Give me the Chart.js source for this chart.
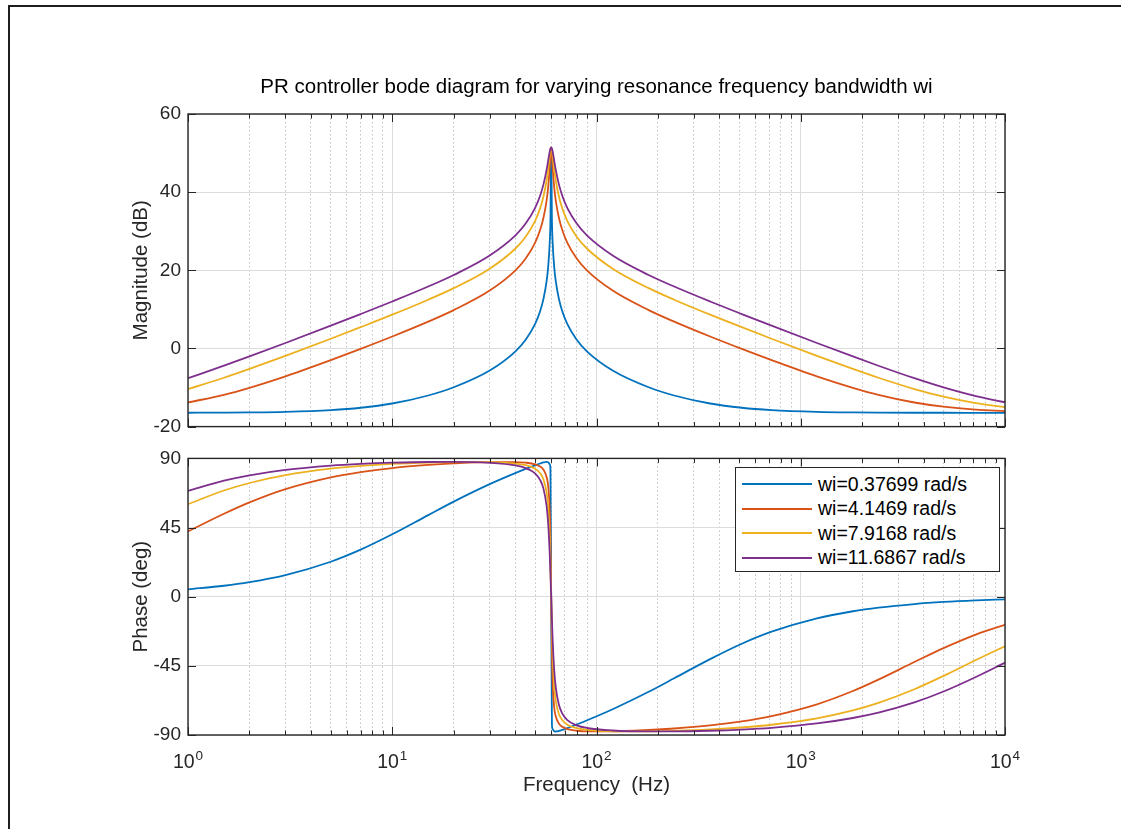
<!DOCTYPE html>
<html>
<head>
<meta charset="utf-8">
<title>PR controller bode diagram</title>
<script src="https://cdn.jsdelivr.net/npm/chart.js@4.4.1/dist/chart.umd.min.js"></script>
<style>
  html, body { margin: 0; padding: 0; background: #fff; }
  #fig { position: relative; width: 1121px; height: 829px; overflow: hidden; font-family: "Liberation Sans", Arial, sans-serif; }
  #frame { position: absolute; left: 8px; top: 5px; width: 1200px; height: 900px; border-top: 2px solid #1e1e1e; border-left: 2px solid #1e1e1e; }
  #magCanvas { position: absolute; left: 0; top: 0; }
  #phaseCanvas { position: absolute; left: 0; top: 440px; }
  #legend { position: absolute; left: 735px; top: 467px; width: 263px; padding: 4px 0 1px 0; border: 1px solid #262626; background: #fff; }
  #legend .row { height: 24.5px; display: flex; align-items: center; color: #000; font-size: 19.5px; white-space: nowrap; }
  #legend .swatch { display: inline-block; width: 70px; height: 1.8px; margin: 0 6px 0 6px; }
  .xtick { position: absolute; top: 752px; transform: translateX(-50%); font-size: 19.5px; line-height: 19.5px; color: #262626; white-space: nowrap; }
  .xtick .exp { font-size: 13.5px; position: relative; top: -8px; margin-left: 1px; }
</style>
</head>
<body>
<div id="fig">
  <div id="frame"></div>
  <canvas id="magCanvas" width="1060" height="445"></canvas>
  <canvas id="phaseCanvas" width="1060" height="389"></canvas>
  <div id="legend"></div>
</div>
<script>
// frequency points in Hz (dense around the 60 Hz resonance)
const freqHz = [1, 1.5, 2, 3, 5, 7, 10, 15, 20, 30, 40, 45, 50, 53, 55, 57, 58, 59, 59.5, 60,
  60.504, 61.017, 62.069, 63.158, 65.455, 67.925, 72, 80, 90, 120, 180, 240, 360, 514.29,
  720, 1200, 1800, 2400, 3600, 5000, 7200, 10000];

const seriesLabels = ['wi=0.37699 rad/s', 'wi=4.1469 rad/s', 'wi=7.9168 rad/s', 'wi=11.6867 rad/s'];

// magnitude, dB
const magW1 = [-16.45, -16.41, -16.36, -16.21, -15.77, -15.18, -14.09, -12.04, -9.93, -5.64, -0.79, 2.25, 6.24, 9.60, 12.69, 17.28, 20.88, 26.96, 32.97, 51.48,
  32.97, 26.96, 20.88, 17.28, 12.69, 9.60, 6.24, 2.25, -0.79, -5.64, -9.93, -12.04, -14.09, -15.18, -15.77, -16.21, -16.36, -16.41, -16.45, -16.46, -16.47, -16.47];
const magW2 = [-13.83, -11.86, -10.07, -7.13, -2.99, -0.11, 3.06, 6.87, 9.82, 14.81, 19.91, 23.01, 27.03, 30.38, 33.44, 37.91, 41.27, 46.25, 49.50, 51.48,
  49.50, 46.25, 41.27, 37.91, 33.44, 30.38, 27.03, 23.01, 19.91, 14.81, 9.82, 6.87, 3.06, -0.11, -2.99, -7.13, -10.07, -11.86, -13.83, -14.91, -15.65, -16.03];
const magW3 = [-10.39, -7.50, -5.24, -1.90, 2.48, 5.44, 8.64, 12.47, 15.43, 20.42, 25.52, 28.61, 32.61, 35.91, 38.88, 43.05, 45.91, 49.33, 50.84, 51.48,
  50.84, 49.33, 45.91, 43.05, 38.88, 35.91, 32.61, 28.61, 25.52, 20.42, 15.43, 12.47, 8.64, 5.44, 2.48, -1.90, -5.24, -7.50, -10.39, -12.35, -14.01, -15.03];
const magW4 = [-7.62, -4.42, -2.04, 1.40, 5.83, 8.80, 12.02, 15.85, 18.81, 23.80, 28.89, 31.96, 35.92, 39.16, 41.99, 45.76, 48.07, 50.36, 51.18, 51.48,
  51.18, 50.36, 48.07, 45.76, 41.99, 39.16, 35.92, 31.96, 28.89, 23.80, 18.81, 15.85, 12.02, 8.80, 5.83, 1.40, -2.04, -4.42, -7.62, -9.98, -12.21, -13.77];

// phase, degrees
const phaseW1 = [4.77, 7.13, 9.47, 14.07, 22.76, 30.60, 40.60, 53.11, 61.89, 73.23, 80.40, 83.15, 85.50, 86.69, 87.35, 87.71, 87.53, 86.21, 83.00, 0,
  -83.00, -86.21, -87.53, -87.71, -87.35, -86.69, -85.50, -83.15, -80.40, -73.23, -61.89, -53.11, -40.60, -30.60, -22.76, -14.07, -9.47, -7.13, -4.77, -3.43, -2.39, -1.72];
const phaseW2 = [42.51, 53.97, 61.38, 70.01, 77.67, 81.12, 83.73, 85.76, 86.75, 87.60, 87.62, 87.23, 86.18, 84.69, 82.62, 77.79, 71.96, 56.76, 37.24, 0,
  -37.24, -56.76, -71.96, -77.79, -82.62, -84.69, -86.18, -87.23, -87.62, -87.60, -86.75, -85.76, -83.73, -81.12, -77.67, -70.01, -61.38, -53.97, -42.51, -33.43, -24.63, -18.26];
const phaseW3 = [60.23, 69.11, 73.99, 79.13, 83.33, 85.11, 86.41, 87.31, 87.64, 87.58, 86.66, 85.56, 83.27, 80.28, 76.35, 67.69, 58.19, 38.65, 21.72, 0,
  -21.72, -38.65, -58.19, -67.69, -76.35, -80.28, -83.27, -85.56, -86.66, -87.58, -87.64, -87.31, -86.41, -85.11, -83.33, -79.13, -73.99, -69.11, -60.23, -51.55, -41.19, -32.21];
const phaseW4 = [68.80, 75.46, 78.94, 82.49, 85.31, 86.46, 87.24, 87.67, 87.68, 87.08, 85.44, 83.72, 80.27, 75.91, 70.35, 58.83, 47.54, 28.45, 15.10, 0,
  -15.10, -28.45, -47.54, -58.83, -70.35, -75.91, -80.27, -83.72, -85.44, -87.08, -87.68, -87.67, -87.24, -86.46, -85.31, -82.49, -78.94, -75.46, -68.80, -61.71, -52.24, -42.91];

// axis ticks
const decadeTicks = [1, 10, 100, 1000, 10000];
const decadeExponents = ['0', '1', '2', '3', '4'];
const magTicks = [-20, 0, 20, 40, 60];
const phaseTicks = [-90, -45, 0, 45, 90];

const lineColors = ['#0072BD', '#D95319', '#EDB120', '#7E2F8E'];
const axisColor = '#262626';

Chart.defaults.font.family = '"Liberation Sans", Arial, Helvetica, sans-serif';
Chart.defaults.color = axisColor;

const isDecade = v => Math.abs(Math.log10(v) - Math.round(Math.log10(v))) < 1e-9;

// 1,2,...,9,10,20,...,10000 for the log grid
const logGridTicks = [];
decadeTicks.forEach((d, i) => {
  if (i === decadeTicks.length - 1) { logGridTicks.push(d); return; }
  for (let k = 1; k <= 9; k++) logGridTicks.push(d * k);
});

const toPoints = ys => freqHz.map((f, i) => ({ x: f, y: ys[i] }));

const makeDatasets = list => list.map((ys, i) => ({
  label: seriesLabels[i],
  data: toPoints(ys),
  borderColor: lineColors[i],
  backgroundColor: lineColors[i],
  borderWidth: 1.8,
  pointRadius: 0,
  cubicInterpolationMode: 'monotone',
  order: list.length - i
}));

// box round the plot with inward tick marks on all four sides
const boxTicks = {
  id: 'boxTicks',
  afterDraw(chart) {
    const { ctx, chartArea: a, scales } = chart;
    ctx.save();
    ctx.strokeStyle = axisColor;
    ctx.lineWidth = 1;
    ctx.beginPath();
    scales.x.ticks.forEach(t => {
      const px = Math.round(scales.x.getPixelForValue(t.value)) + 0.5;
      const len = isDecade(t.value) ? 8 : 4.5;
      ctx.moveTo(px, a.bottom); ctx.lineTo(px, a.bottom - len);
      ctx.moveTo(px, a.top); ctx.lineTo(px, a.top + len);
    });
    scales.y.ticks.forEach(t => {
      const py = Math.round(scales.y.getPixelForValue(t.value)) + 0.5;
      ctx.moveTo(a.left, py); ctx.lineTo(a.left + 8, py);
      ctx.moveTo(a.right, py); ctx.lineTo(a.right - 8, py);
    });
    ctx.stroke();
    ctx.lineWidth = 1.4;
    ctx.strokeRect(a.left, a.top, a.right - a.left, a.bottom - a.top);
    ctx.restore();
  }
};

const xAxis = showTitle => ({
  type: 'logarithmic',
  min: 1,
  max: 10000,
  afterBuildTicks: s => { s.ticks = logGridTicks.map(v => ({ value: v, major: isDecade(v) })); },
  afterFit: s => { s.height = showTitle ? 66.3 : 0; },
  grid: {
    drawTicks: false,
    lineWidth: 1,
    color: c => (c.tick && isDecade(c.tick.value)) ? '#dcdcdc' : '#c2c2c2'
  },
  border: {
    display: false,
    dash: c => (c.tick && isDecade(c.tick.value)) ? [] : [1.5, 2.5]
  },
  // decade labels need superscripts, they are placed as html below
  ticks: { display: false },
  title: {
    display: showTitle,
    text: 'Frequency  (Hz)',
    color: axisColor,
    font: { size: 20.5 },
    padding: { top: 4, bottom: 4 }
  }
});

const yAxis = (tickList, titleText) => ({
  type: 'linear',
  min: tickList[0],
  max: tickList[tickList.length - 1],
  afterBuildTicks: s => { s.ticks = tickList.map(v => ({ value: v })); },
  afterFit: s => { s.width = 63; },
  grid: { drawTicks: false, color: '#dcdcdc', lineWidth: 1 },
  border: { display: false },
  ticks: { padding: 7, color: axisColor, font: { size: 19 } },
  title: {
    display: true,
    text: titleText,
    color: axisColor,
    font: { size: 20.5 },
    padding: { top: 4, bottom: 4 }
  }
});

const magChart = new Chart(document.getElementById('magCanvas'), {
  type: 'line',
  data: { datasets: makeDatasets([magW1, magW2, magW3, magW4]) },
  options: {
    responsive: false,
    animation: false,
    layout: { padding: { left: 125, right: 55, top: 74.7, bottom: 14 } },
    scales: { x: xAxis(false), y: yAxis(magTicks, 'Magnitude (dB)') },
    plugins: {
      legend: { display: false },
      tooltip: { enabled: false },
      title: {
        display: true,
        fullSize: false,
        text: 'PR controller bode diagram for varying resonance frequency bandwidth wi',
        color: '#000',
        font: { size: 20.5, weight: 'normal' },
        padding: { top: 0, bottom: 14.7 }
      }
    }
  },
  plugins: [boxTicks]
});

const phaseChart = new Chart(document.getElementById('phaseCanvas'), {
  type: 'line',
  data: { datasets: makeDatasets([phaseW1, phaseW2, phaseW3, phaseW4]) },
  options: {
    responsive: false,
    animation: false,
    layout: { padding: { left: 125, right: 55, top: 15, bottom: 27.7 } },
    scales: { x: xAxis(true), y: yAxis(phaseTicks, 'Phase (deg)') },
    plugins: {
      legend: { display: false },
      tooltip: { enabled: false }
    }
  },
  plugins: [boxTicks]
});

const fig = document.getElementById('fig');

// 10^n labels under the phase plot, placed from the log scale
const fx = phaseChart.scales.x;
decadeTicks.forEach((v, k) => {
  const el = document.createElement('div');
  el.className = 'xtick';
  el.style.left = fx.getPixelForValue(v) + 'px';
  el.appendChild(document.createTextNode('10'));
  const sup = document.createElement('span');
  sup.className = 'exp';
  sup.textContent = decadeExponents[k];
  el.appendChild(sup);
  fig.appendChild(el);
});

// legend box in the upper right of the phase plot
const legendBox = document.getElementById('legend');
phaseChart.data.datasets.forEach(ds => {
  const row = document.createElement('div');
  row.className = 'row';
  const sw = document.createElement('span');
  sw.className = 'swatch';
  sw.style.background = ds.borderColor;
  const txt = document.createElement('span');
  txt.textContent = ds.label;
  row.appendChild(sw);
  row.appendChild(txt);
  legendBox.appendChild(row);
});
</script>
</body>
</html>
